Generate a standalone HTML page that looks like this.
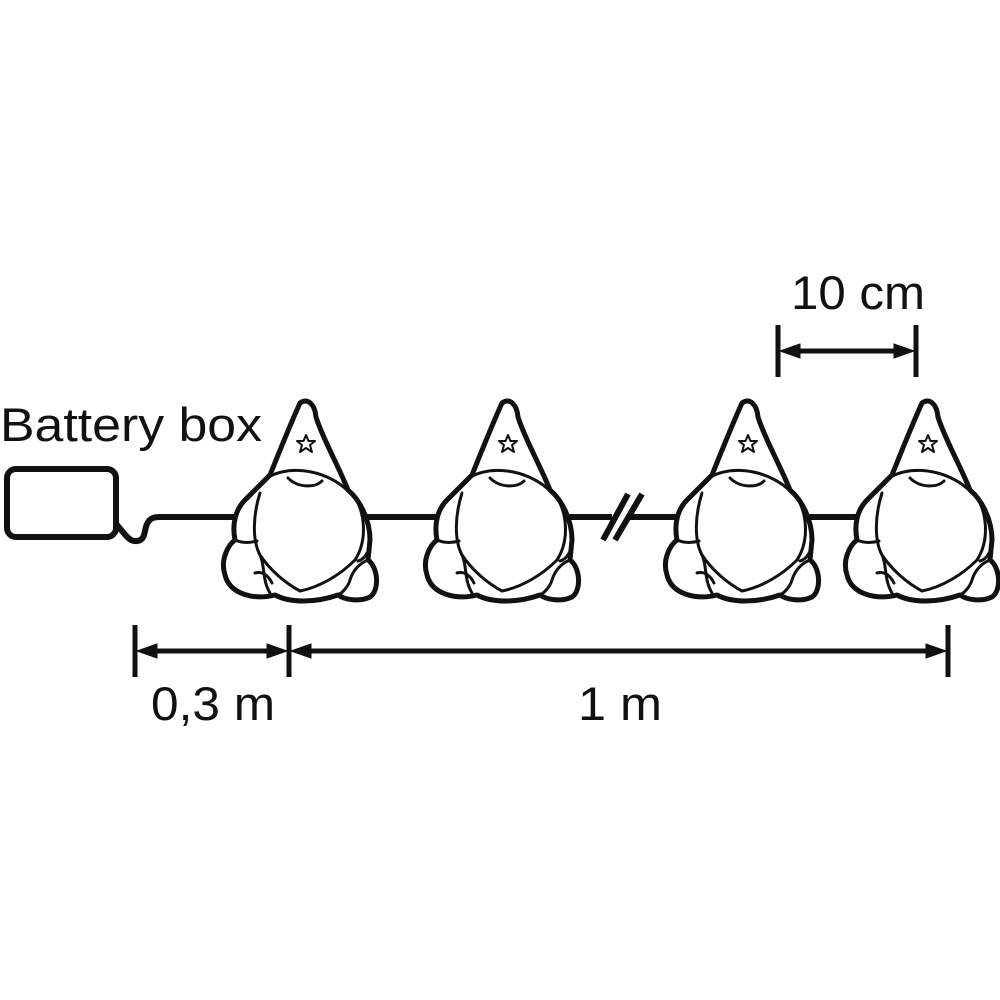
<!DOCTYPE html>
<html><head><style>body{margin:0;background:#fff}svg{display:block}</style></head>
<body>
<svg width="1000" height="1000" viewBox="0 0 1000 1000" xmlns="http://www.w3.org/2000/svg">
<defs>
<g id="gn">
<path d="M80,8 C88,2 95,10 96,22 C102,42 118,70 128,95 C140,105 150,125 150,145 L148,165 C158,172 160,195 150,202 C140,207 125,205 118,200 C95,208 70,208 55,200 C35,205 10,200 5,180 C0,165 8,150 15,145 C12,130 15,115 25,105 C35,95 42,88 50,80 C60,55 70,30 80,8 Z" fill="#fff" stroke="#111" stroke-width="5" stroke-linejoin="round"/>
<g fill="none" stroke="#111" stroke-width="3" stroke-linecap="round">
<path d="M48,82 C75,68 110,78 128,96"/>
<path d="M68,83 C78,93 95,93 102,86"/>
<path d="M40,98 C33,120 32,145 40,160 C50,175 65,188 80,196 C100,192 120,180 135,165 C148,145 145,115 133,100"/>
<path d="M15,145 C22,148 30,148 37,146"/>
<path d="M40,160 C45,170 42,185 50,198"/>
<path d="M35,178 C42,176 48,180 52,188"/>
<path d="M148,165 C140,168 133,175 130,185 C128,192 122,198 118,200"/>
<path d="M147,158 C145,162 142,165 138,166"/>
</g>
<path d="M86,40 L88.5,46 L95,46 L90,50 L92,57 L86,53 L80,57 L82,50 L77,46 L83.5,46 Z" fill="#fff" stroke="#111" stroke-width="2" stroke-linejoin="round"/>
</g>
</defs>
<rect x="7" y="469" width="109" height="68" rx="9" fill="none" stroke="#111" stroke-width="6"/>
<path d="M116,524 C124,532 128,542 137,541 C146,540 144,530 147,524 C150,518 154,517 160,517 L612,517 M628,517 L860,517" fill="none" stroke="#111" stroke-width="6"/>
<path d="M603,540 L628,494 M615,540 L642,494" stroke="#111" stroke-width="6"/>
<use href="#gn" x="220" y="395"/>
<use href="#gn" x="422" y="395"/>
<use href="#gn" x="662" y="395"/>
<use href="#gn" x="842" y="395"/>
<g stroke="#111" stroke-width="5" fill="#111">
<path d="M135,625 V677 M289,625 V677 M948,625 V677 M778,325 V377 M916,325 V377"/>
<path d="M150,651 H274 M304,651 H933 M793,351 H901" />
<path d="M137,651 L157,644 L157,658 Z M287,651 L267,644 L267,658 Z M291,651 L311,644 L311,658 Z M946,651 L926,644 L926,658 Z M780,351 L800,344 L800,358 Z M914,351 L894,344 L894,358 Z" stroke-width="1"/>
</g>
<g font-family="Liberation Sans, sans-serif" font-size="47" fill="#111">
<text x="0" y="441" textLength="262" lengthAdjust="spacingAndGlyphs">Battery box</text>
<text x="791" y="309" textLength="134" lengthAdjust="spacingAndGlyphs">10 cm</text>
<text x="151" y="720" textLength="124" lengthAdjust="spacingAndGlyphs">0,3 m</text>
<text x="578" y="720" textLength="84" lengthAdjust="spacingAndGlyphs">1 m</text>
</g>
</svg>
</body></html>
